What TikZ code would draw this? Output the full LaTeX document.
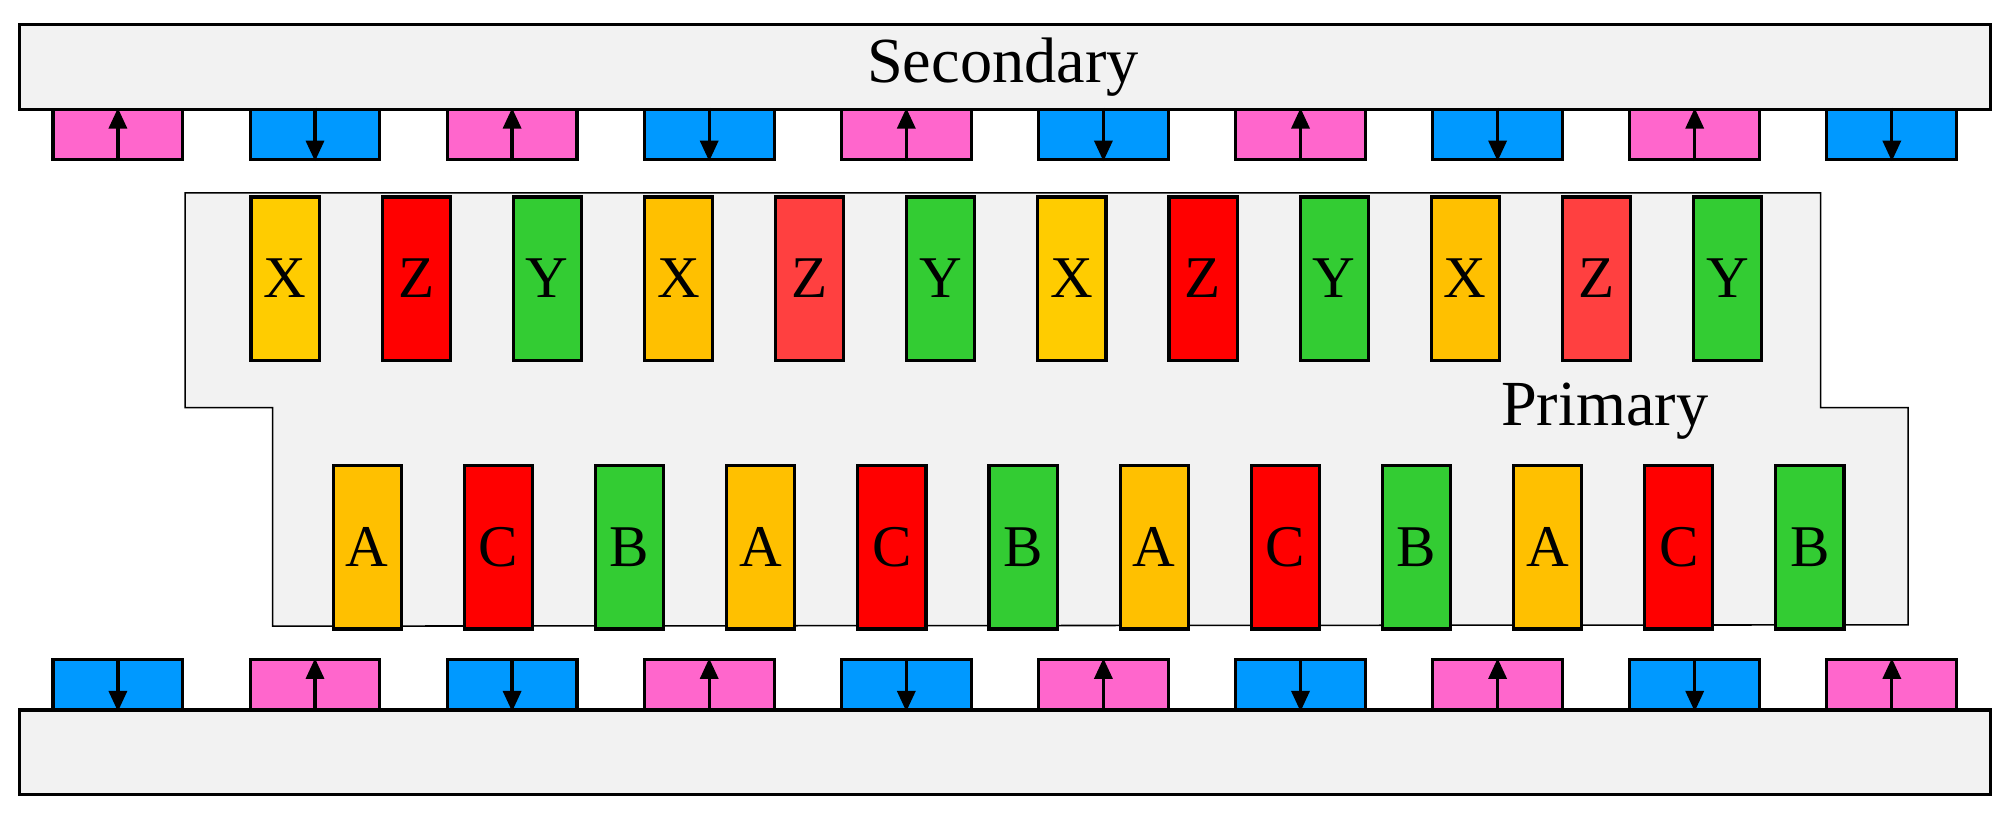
\documentclass[tikz,border=0pt]{standalone}
\usepackage{fontspec}
\setmainfont{Liberation Serif}
\usetikzlibrary{arrows.meta}
\definecolor{pk}{HTML}{FF66CC}
\definecolor{bl}{HTML}{0099FF}
\definecolor{yx}{HTML}{FFCC00}
\definecolor{ox}{HTML}{FFC000}
\definecolor{rz}{HTML}{FF0000}
\definecolor{lz}{HTML}{FF4040}
\definecolor{gy}{HTML}{33CC33}
\definecolor{bg}{HTML}{F2F2F2}
\begin{document}
\begin{tikzpicture}[x=0.5pt,y=-0.5pt,
  bar/.style={draw,line width=1.2pt,fill=bg},
  mag/.style={draw,line width=1.2pt,minimum width=50.5pt,minimum height=19.5pt,inner sep=0pt,anchor=north west},
  coil/.style={draw,line width=1.2pt,minimum width=26.5pt,minimum height=63.5pt,inner sep=0pt,anchor=north west,font=\fontsize{23}{23}\selectfont},
  arr/.style={line width=1.3pt,-{Triangle[length=8pt,width=7pt]}}]
\useasboundingbox (0,0) rectangle (1568,635);
\node[bar,minimum width=766.5pt,minimum height=33pt,anchor=north west,inner sep=0pt] (sec) at (14,18) {};
\node[font=\fontsize{25}{25}\selectfont] (sect) at (780,52) {Secondary};
\node[bar,minimum width=766.5pt,minimum height=33pt,anchor=north west,inner sep=0pt] (bot) at (14,551) {};
\draw[line width=0.6pt,fill=bg] (144,150) -- (1416,150) -- (1416,317) -- (1484,317) -- (1484,486) -- (212,487) -- (212,317) -- (144,317) -- cycle;
\node[font=\fontsize{25}{25}\selectfont] (prim) at (1248,320) {Primary};
\foreach \i in {0,...,9}{
  \pgfmathtruncatemacro\odd{mod(\i,2)}
  \ifnum\odd=0
    \node[mag,fill=pk] (t\i) at ({40+153.3*\i},84) {};
    \draw[arr] (t\i.south) -- (t\i.north);
    \node[mag,fill=bl] (b\i) at ({40+153.3*\i},512) {};
    \draw[arr] (b\i.north) -- (b\i.south);
  \else
    \node[mag,fill=bl] (t\i) at ({40+153.3*\i},84) {};
    \draw[arr] (t\i.north) -- (t\i.south);
    \node[mag,fill=pk] (b\i) at ({40+153.3*\i},512) {};
    \draw[arr] (b\i.south) -- (b\i.north);
  \fi
}
\foreach \l/\c [count=\i from 0] in {X/yx,Z/rz,Y/gy,X/ox,Z/lz,Y/gy,X/yx,Z/rz,Y/gy,X/ox,Z/lz,Y/gy}{
  \node[coil,fill=\c] (u\i) at ({194+102*\i},152) {\l};
}
\foreach \l/\c [count=\i from 0] in {A/ox,C/rz,B/gy,A/ox,C/rz,B/gy,A/ox,C/rz,B/gy,A/ox,C/rz,B/gy}{
  \node[coil,fill=\c] (l\i) at ({258+102*\i},361) {\l};
}
\end{tikzpicture}
\end{document}
